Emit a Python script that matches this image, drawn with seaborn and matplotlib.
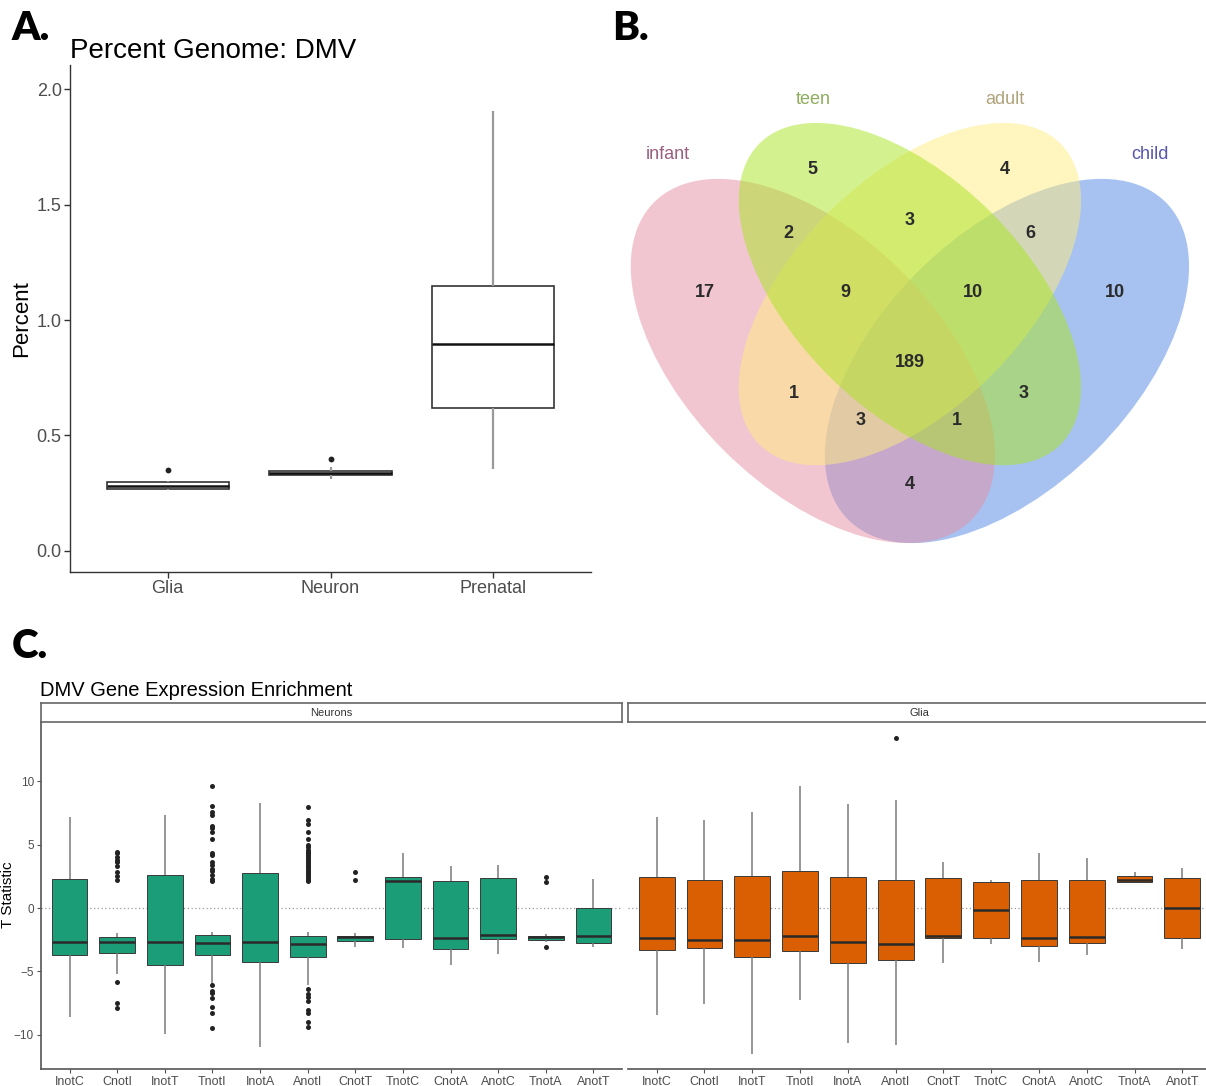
import numpy as np
import pandas as pd
import matplotlib
matplotlib.use('Agg')
import matplotlib.pyplot as plt
from matplotlib.patches import Ellipse
import seaborn as sns

# ---- Panel A: percent genome covered by DMVs (box summaries)
pg_groups = ['Glia', 'Neuron', 'Prenatal']
pg_low = [0.265, 0.312, 0.355]
pg_q1 = [0.268, 0.328, 0.618]
pg_med = [0.283, 0.337, 0.894]
pg_q3 = [0.300, 0.345, 1.147]
pg_high = [0.302, 0.365, 1.907]
pg_out_group = ['Glia', 'Neuron']
pg_out_value = [0.349, 0.399]

# ---- Panel B: Venn counts
venn_sets = ['infant', 'teen', 'adult', 'child']
venn_counts = [17, 5, 4, 10, 2, 3, 6, 9, 10, 189, 1, 3, 3, 1, 4]

# ---- Panel C: T statistics per contrast (box summaries)
contrasts = ['InotC', 'CnotI', 'InotT', 'TnotI', 'InotA', 'AnotI',
             'CnotT', 'TnotC', 'CnotA', 'AnotC', 'TnotA', 'AnotT']

neu_low = [-8.6, -5.16, -9.95, -5.95, -10.95, -6.1, -3.05, -3.18, -4.45, -3.63, -2.66, -3.1]
neu_q1 = [-3.68, -3.53, -4.45, -3.68, -4.26, -3.84, -2.58, -2.42, -3.21, -2.42, -2.55, -2.74]
neu_med = [-2.66, -2.66, -2.71, -2.79, -2.66, -2.87, -2.32, 2.13, -2.34, -2.16, -2.32, -2.18]
neu_q3 = [2.26, -2.26, 2.58, -2.16, 2.79, -2.21, -2.18, 2.42, 2.13, 2.39, -2.21, 0.0]
neu_high = [7.2, -2.0, 7.34, -1.9, 8.26, -1.9, -2.0, 4.37, 3.34, 3.37, -2.05, 2.29]

neu_out = {
    'CnotI': [4.45, 4.3, 4.05, 3.8, 3.6, 3.3, 2.8, 2.5, 2.2, -5.8, -7.5, -7.9],
    'TnotI': [9.63, 8.0, 7.6, 7.34, 6.47, 6.3, 6.0, 5.4, 4.3, 4.2, 3.6, 3.4, 3.1, 2.9,
              2.6, 2.3, 2.1, -6.1, -6.5, -6.7, -7.1, -7.8, -8.3, -9.45],
    'AnotI': [7.95, 6.9, 6.65, 6.0, 5.45, 5.0, 4.8, 4.6, 4.45, 4.3, 4.15, 4.0, 3.85, 3.7,
              3.55, 3.4, 3.25, 3.1, 2.95, 2.8, 2.65, 2.5, 2.35, 2.2, 2.1,
              -6.4, -6.75, -7.0, -7.3, -8.05, -8.25, -8.97, -9.35],
    'CnotT': [2.87, 2.2],
    'TnotA': [2.47, 2.08, -3.05],
}

gli_low = [-8.39, -7.53, -11.47, -7.21, -10.63, -10.82, -4.37, -2.87, -4.24, -3.71, 2.05, -3.21]
gli_q1 = [-3.32, -3.16, -3.89, -3.37, -4.32, -4.10, -2.39, -2.39, -2.97, -2.79, 2.05, -2.34]
gli_med = [-2.34, -2.53, -2.53, -2.21, -2.68, -2.84, -2.21, -0.16, -2.34, -2.26, 2.21, -0.03]
gli_q3 = [2.42, 2.24, 2.53, 2.95, 2.42, 2.21, 2.34, 2.08, 2.18, 2.21, 2.55, 2.39]
gli_high = [7.16, 6.95, 7.55, 9.63, 8.21, 8.53, 3.66, 2.21, 4.32, 3.97, 2.87, 3.13]
gli_out = {'AnotI': [13.4]}


def summary_frame(groups, low, q1, med, q3, high):
    # five values per group -> quartiles land exactly on q1/med/q3
    rows = []
    for g, a, b, c, d, e in zip(groups, low, q1, med, q3, high):
        for v in (a, b, c, d, e):
            rows.append((g, v))
    return pd.DataFrame(rows, columns=['group', 'value'])


def outlier_frame(out):
    rows = [(g, v) for g, vals in out.items() for v in vals]
    return pd.DataFrame(rows, columns=['group', 'value'])


sns.set_theme(style='ticks')
plt.rcParams['font.family'] = ['Liberation Sans', 'DejaVu Sans']
plt.rcParams['text.color'] = 'black'
plt.rcParams['axes.labelcolor'] = 'black'

W, H = 1206, 1086
fig = plt.figure(figsize=(W / 100, H / 100), dpi=100)


def px_axes(x0, y0, x1, y1):
    return fig.add_axes([x0 / W, 1 - y1 / H, (x1 - x0) / W, (y1 - y0) / H])


def style_axes(ax):
    for s in ['top', 'right']:
        ax.spines[s].set_visible(False)
    for s in ['left', 'bottom']:
        ax.spines[s].set_color('#333333')
        ax.spines[s].set_linewidth(1.0)


# ================= Panel A =================
axA = px_axes(70, 65, 591, 572)
dfA = summary_frame(pg_groups, pg_low, pg_q1, pg_med, pg_q3, pg_high)
sns.boxplot(data=dfA, x='group', y='value', order=pg_groups, whis=(0, 100),
            width=0.75, color='white', saturation=1, linecolor='#333333',
            linewidth=1.2, fliersize=0, showcaps=False,
            medianprops={'color': '#111111', 'linewidth': 1.8},
            whiskerprops={'color': '#999999', 'linewidth': 1.6}, ax=axA)
dfAo = pd.DataFrame({'group': pg_out_group, 'value': pg_out_value})
sns.stripplot(data=dfAo, x='group', y='value', order=pg_groups, jitter=False,
              color='#222222', size=4.2, ax=axA)
axA.set_xlim(-0.6, 2.6)
axA.set_ylim(-0.091, 2.104)
axA.set_yticks([0, 0.5, 1.0, 1.5, 2.0])
axA.set_yticklabels(['0.0', '0.5', '1.0', '1.5', '2.0'])
axA.set_xlabel('')
axA.set_ylabel('Percent', fontsize=16, color='black')
axA.yaxis.set_label_coords(-0.073, 0.5)
axA.tick_params(axis='both', labelsize=13, labelcolor='#4d4d4d', color='#333333',
                length=4, width=1.0, pad=2)
style_axes(axA)
axA.set_title('Percent Genome: DMV', loc='left', fontsize=20, pad=5, color='black')

# ================= Panel B =================
axB = px_axes(600, 80, 1206, 560)
S = 647.0
axB.set_xlim(0, 606 / S)
axB.set_ylim(0, 480 / S)
axB.axis('off')

venn_fill = {'infant': '#E58FA5', 'teen': '#A9E521', 'adult': '#FFED7F', 'child': '#5187E5'}
venn_text = {'infant': '#9B5F80', 'teen': '#8EAD5E', 'adult': '#AFA37C', 'child': '#5656B0'}
# ellipse layout (centre, semi-axes, rotation) in venn units
venn_shape = {
    'infant': ((0.329, 0.3076), 0.347, 0.195, -45),
    'teen': ((0.479, 0.411), 0.329, 0.178, -45),
    'adult': ((0.479, 0.411), 0.329, 0.178, 45),
    'child': ((0.629, 0.3076), 0.347, 0.195, 45),
}
for name in ['child', 'infant', 'adult', 'teen']:
    (cx, cy), a, b, ang = venn_shape[name]
    axB.add_patch(Ellipse((cx, cy), 2 * a, 2 * b, angle=ang,
                          facecolor=venn_fill[name], alpha=0.5, edgecolor='none'))

venn_label_pos = [(0.105, 0.626), (0.329, 0.711), (0.626, 0.711), (0.850, 0.626)]
for name, (x, y) in zip(venn_sets, venn_label_pos):
    axB.text(x, y, name, ha='center', va='center', fontsize=13, color=venn_text[name])

region_pos = [(0.162, 0.414), (0.329, 0.603), (0.626, 0.603), (0.796, 0.414),
              (0.291, 0.504), (0.478, 0.524), (0.665, 0.504), (0.379, 0.414),
              (0.577, 0.414), (0.479, 0.306), (0.300, 0.257), (0.655, 0.257),
              (0.403, 0.216), (0.552, 0.216), (0.478, 0.117)]
for n, (x, y) in zip(venn_counts, region_pos):
    axB.text(x, y, str(n), ha='center', va='center', fontsize=13,
             fontweight='bold', color='#2b2b2b')

# ================= Panel C =================
panels = [
    ('Neurons', (41, 622), '#1B9E77',
     summary_frame(contrasts, neu_low, neu_q1, neu_med, neu_q3, neu_high), outlier_frame(neu_out)),
    ('Glia', (628, 1211), '#D95F02',
     summary_frame(contrasts, gli_low, gli_q1, gli_med, gli_q3, gli_high), outlier_frame(gli_out)),
]
for i, (label, (x0, x1), col, dfs, dfo) in enumerate(panels):
    ax = px_axes(x0, 722, x1, 1069)
    ax.axhline(0, color='#9a9a9a', ls=(0, (1, 2)), lw=0.9, zorder=0)
    sns.boxplot(data=dfs, x='group', y='value', order=contrasts, whis=(0, 100),
                width=0.75, color=col, saturation=1, linecolor='#3a3a3a',
                linewidth=0.7, fliersize=0, showcaps=False,
                medianprops={'color': '#2a2a2a', 'linewidth': 1.8},
                whiskerprops={'color': '#7a7a7a', 'linewidth': 1.1}, ax=ax)
    sns.stripplot(data=dfo, x='group', y='value', order=contrasts, jitter=False,
                  color='#222222', size=3.6, ax=ax)
    ax.set_xlim(-0.6, 11.6)
    ax.set_ylim(-12.68, 14.65)
    ax.set_xlabel('')
    ax.set_ylabel('')
    ax.set_yticks([-10, -5, 0, 5, 10])
    ax.tick_params(axis='x', labelsize=9, labelcolor='#4d4d4d', color='#555555',
                   length=3, width=0.8, pad=2)
    ax.tick_params(axis='y', labelsize=8.5, labelcolor='#4d4d4d', color='#555555',
                   length=3, width=0.8, pad=2)
    style_axes(ax)
    for s in ['left', 'bottom']:
        ax.spines[s].set_linewidth(1.2)
        ax.spines[s].set_color('#555555')
    if i > 0:
        ax.spines['left'].set_visible(False)
        ax.tick_params(axis='y', left=False, labelleft=False)
    # facet strip
    st = px_axes(x0, 703, x1, 722)
    st.set_xticks([])
    st.set_yticks([])
    for s in st.spines.values():
        s.set_color('#666666')
        s.set_linewidth(1.2)
    st.text(0.5, 0.5, label, ha='center', va='center', fontsize=8, color='#333333',
            transform=st.transAxes)

fig.text(40 / W, 1 - 690 / H, 'DMV Gene Expression Enrichment', ha='left', va='center',
         fontsize=14.5, color='black')
fig.text(8 / W, 1 - 895 / H, 'T Statistic', rotation=90, ha='center', va='center',
         fontsize=11, color='black')

# panel letters
for letter, (x, y) in zip(['A.', 'B.', 'C.'], [(12, 29), (612, 29), (12, 647)]):
    fig.text(x / W, 1 - y / H, letter, ha='left', va='center', fontsize=29,
             fontweight='heavy', color='black', family=['Lato', 'DejaVu Sans'])

fig.savefig('out.png', dpi=100)
